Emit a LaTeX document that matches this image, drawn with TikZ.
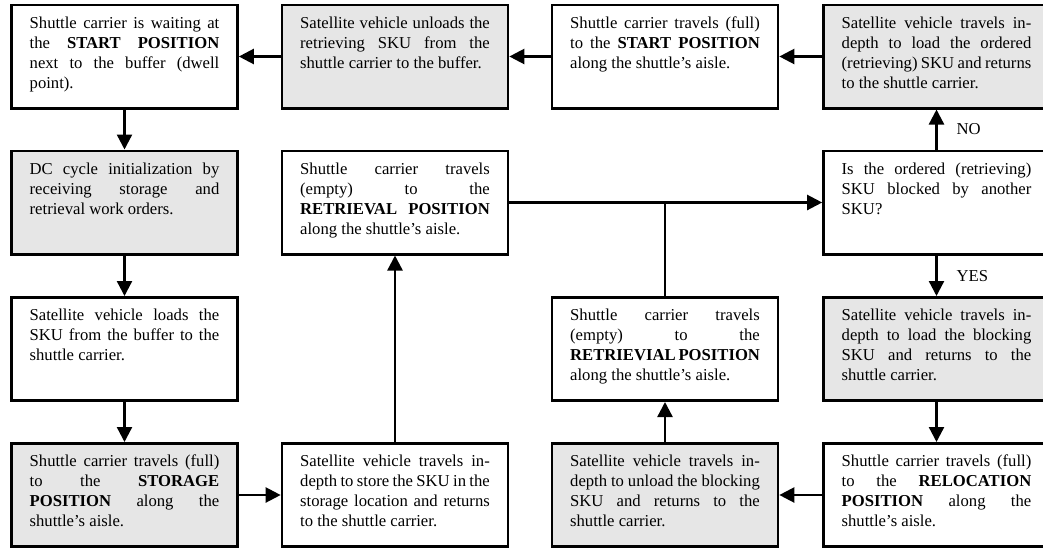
\documentclass[tikz,border=0pt]{standalone}
\usepackage{fontspec}
\setmainfont{Liberation Serif}
\usetikzlibrary{positioning,arrows.meta}
\definecolor{shade}{HTML}{E6E6E6}
\tolerance=9999
\hbadness=10000

\begin{document}
\begin{tikzpicture}[x=.6pt,y=-.6pt,font=\fontsize{10}{12}\selectfont,
  stepbox/.style={draw,line width=1.6pt,text width=113.8pt,align=justify,inner xsep=10.9pt,inner ysep=0pt,text height=14.1pt,text depth=47.9pt},
  greybox/.style={stepbox,fill=shade},
  link/.style={line width=1.4pt},
  arr/.style={link,-{Triangle[length=9pt,width=9pt]}}]
\useasboundingbox (0,0) rectangle (1043,551);
\clip (0,0) rectangle (1043,551);
% top row
\node[stepbox] (start) at (124.5,56.5) {Shuttle carrier is waiting at\linebreak the \textbf{START POSITION}\linebreak next to the buffer (dwell\linebreak point).};
\node[greybox] (unload) at (395,56.5) {Satellite vehicle unloads the\linebreak retrieving SKU from the\linebreak shuttle carrier to the buffer.};
\node[stepbox] (backfull) at (665,56.5) {Shuttle carrier travels (full)\linebreak to the \textbf{START POSITION}\linebreak along the shuttle's aisle.};
\node[greybox] (loadorder) at (936.5,56.5) {Satellite vehicle travels in-\linebreak depth to load the ordered\linebreak (retrieving) SKU and returns\linebreak to the shuttle carrier.};
% second row
\node[greybox] (init) at (124.5,202.5) {DC cycle initialization by\linebreak receiving storage and\linebreak retrieval work orders.};
\node[stepbox] (toretr) at (395,202.5) {Shuttle carrier travels\linebreak (empty) to the\linebreak \textbf{RETRIEVAL POSITION}\linebreak along the shuttle's aisle.};
\node[stepbox] (blocked) at (936.5,202.5) {Is the ordered (retrieving)\linebreak SKU blocked by another\linebreak SKU?};
% third row
\node[stepbox] (loadsku) at (124.5,349) {Satellite vehicle loads the\linebreak SKU from the buffer to the\linebreak shuttle carrier.};
\node[stepbox] (toretrb) at (665,349) {Shuttle carrier travels\linebreak (empty) to the\linebreak \makebox[\linewidth][s]{\bfseries RETRIEVIAL POSITION}\linebreak along the shuttle's aisle.};
\node[greybox] (loadblock) at (936.5,349) {Satellite vehicle travels in-\linebreak depth to load the blocking\linebreak SKU and returns to the\linebreak shuttle carrier.};
% bottom row
\node[greybox] (tostore) at (124.5,495) {Shuttle carrier travels (full)\linebreak to the \textbf{STORAGE}\linebreak \textbf{POSITION} along the\linebreak shuttle's aisle.};
\node[stepbox] (store) at (395,495) {Satellite vehicle travels in-\linebreak depth to store the SKU in the\linebreak storage location and returns\linebreak to the shuttle carrier.};
\node[greybox] (unloadblock) at (665,495) {Satellite vehicle travels in-\linebreak depth to unload the blocking\linebreak SKU and returns to the\linebreak shuttle carrier.};
\node[stepbox] (toreloc) at (936.5,495) {Shuttle carrier travels (full)\linebreak to the \textbf{RELOCATION}\linebreak \textbf{POSITION} along the\linebreak shuttle's aisle.};
% connectors
\draw[arr] (start) -- (init);
\draw[arr] (init) -- (loadsku);
\draw[arr] (loadsku) -- (tostore);
\draw[arr] (tostore) -- (store);
\draw[arr] (store) -- (toretr);
\draw[arr] (toretr) -- (blocked);
\draw[link] (toretrb) -- (toretrb.north |- blocked.west);
\draw[arr] (blocked) -- node[right=8pt]{NO} (loadorder);
\draw[arr] (blocked) -- node[right=8pt]{YES} (loadblock);
\draw[arr] (loadblock) -- (toreloc);
\draw[arr] (toreloc) -- (unloadblock);
\draw[arr] (unloadblock) -- (toretrb);
\draw[arr] (loadorder) -- (backfull);
\draw[arr] (backfull) -- (unload);
\draw[arr] (unload) -- (start);
\end{tikzpicture}
\end{document}
